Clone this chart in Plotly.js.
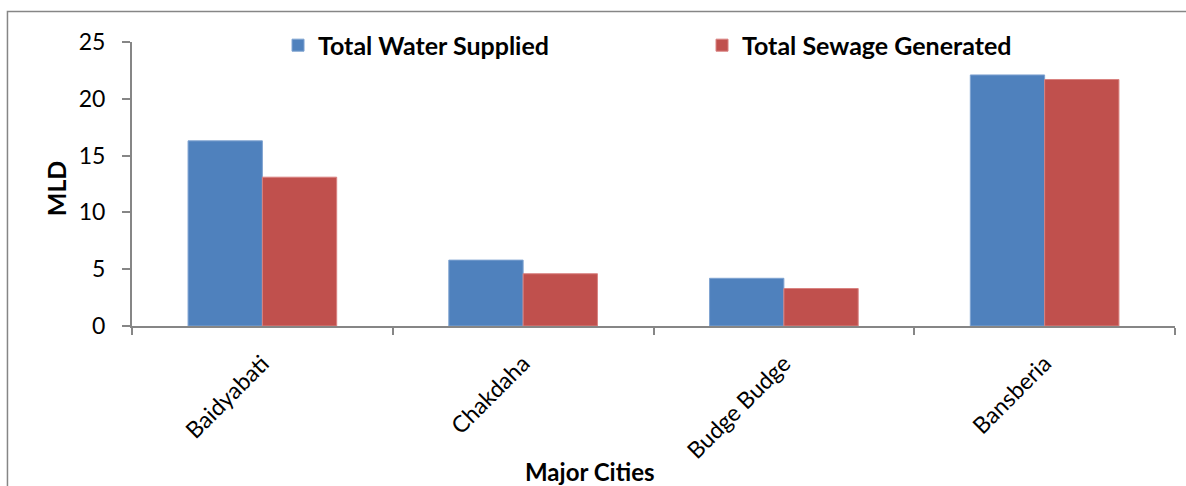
<!DOCTYPE html>
<html>
<head>
<meta charset="utf-8">
<script src="https://cdn.plot.ly/plotly-3.0.1.min.js"></script>
<style>
  html, body { margin: 0; padding: 0; background: #ffffff; }
  #chart { width: 1186px; height: 486px; }
</style>
</head>
<body>
<div id="chart"></div>
<script>
// Water supply and sewage generation (MLD) for major cities
const cities = ["Baidyabati", "Chakdaha", "Budge Budge", "Bansberia"];
const waterSupplied = [16.3, 5.8, 4.2, 22.1];
const sewageGenerated = [13.1, 4.6, 3.3, 21.7];
const seriesNames = ["Total Water Supplied", "Total Sewage Generated"];
const yTicks = [0, 5, 10, 15, 20, 25];
const xTitle = "Major Cities";
const yTitle = "MLD";

const axisGrey = "#868686";
const fontFamily = "Lato, 'Open Sans', sans-serif";

const traces = [
  {
    type: "bar",
    name: seriesNames[0],
    x: cities,
    y: waterSupplied,
    marker: { color: "#4f81bd", line: { color: "#7fa3d1", width: 1 } }
  },
  {
    type: "bar",
    name: seriesNames[1],
    x: cities,
    y: sewageGenerated,
    marker: { color: "#c0504d", line: { color: "#d98280", width: 1 } }
  }
];

const layout = {
  width: 1186,
  height: 486,
  margin: { l: 132, r: 11, t: 41.5, b: 160 },
  paper_bgcolor: "#ffffff",
  plot_bgcolor: "#ffffff",
  font: { family: fontFamily, color: "#000000" },
  barmode: "group",
  bargap: 0.43,
  bargroupgap: 0,
  showlegend: true,
  legend: {
    orientation: "h",
    x: 0.140,
    xanchor: "left",
    y: 0.988,
    yanchor: "middle",
    font: { size: 25, family: fontFamily, weight: "bold" },
    entrywidth: 379,
    entrywidthmode: "pixels",
    bgcolor: "rgba(0,0,0,0)"
  },
  xaxis: {
    type: "category",
    showline: true,
    linecolor: axisGrey,
    linewidth: 2,
    showgrid: false,
    zeroline: false,
    ticks: "outside",
    ticklen: 7,
    tickwidth: 2,
    tickcolor: axisGrey,
    tickson: "boundaries",
    tickangle: -45,
    ticklabelstandoff: 13,
    tickfont: { size: 23, family: fontFamily }
  },
  yaxis: {
    range: [0, 25],
    tickvals: yTicks,
    showline: true,
    linecolor: axisGrey,
    linewidth: 2,
    showgrid: false,
    zeroline: false,
    ticks: "outside",
    ticklen: 8,
    tickwidth: 2,
    tickcolor: axisGrey,
    tickfont: { size: 23, family: fontFamily },
    ticklabelstandoff: 12
  },
  annotations: [
    {
      text: xTitle,
      xref: "paper",
      yref: "paper",
      x: (590 - 132) / 1043,
      y: (326 - 472) / 284.5,
      xanchor: "center",
      yanchor: "middle",
      showarrow: false,
      font: { size: 24, family: fontFamily, weight: "bold", color: "#000000" }
    },
    {
      text: yTitle,
      xref: "paper",
      yref: "paper",
      x: (56 - 132) / 1043,
      y: (326 - 188) / 284.5,
      xanchor: "center",
      yanchor: "middle",
      textangle: -90,
      showarrow: false,
      font: { size: 25, family: fontFamily, weight: "bold", color: "#000000" }
    }
  ],
  shapes: [
    {
      type: "rect",
      xref: "paper",
      yref: "paper",
      x0: -0.1194,
      x1: 1.03,
      y0: -0.6,
      y1: 1.1072,
      line: { color: axisGrey, width: 1.5 },
      fillcolor: "rgba(0,0,0,0)",
      layer: "below"
    }
  ]
};

Plotly.newPlot("chart", traces, layout, { displayModeBar: false, staticPlot: true });
</script>
</body>
</html>
